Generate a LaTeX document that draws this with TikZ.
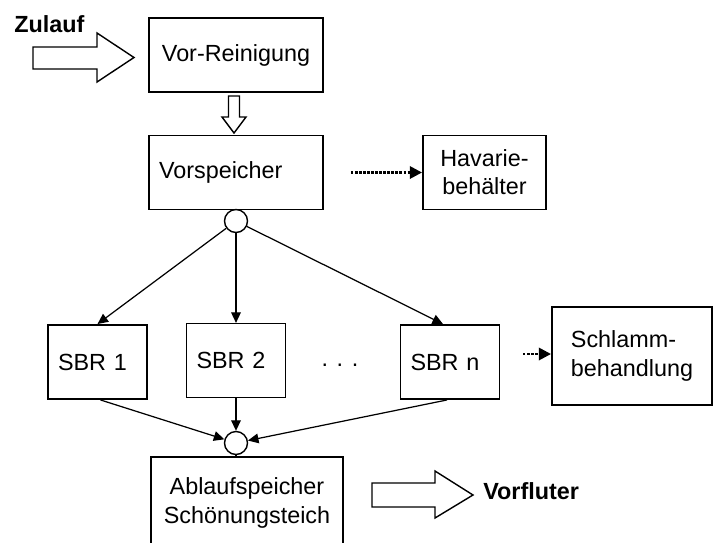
\documentclass[tikz,border=0pt]{standalone}
\usepackage{fontspec}
\setmainfont{Liberation Sans}
\usetikzlibrary{arrows.meta}

\tikzset{
  stage/.style={draw, line width=1.1pt, minimum height=1.48cm, inner xsep=0.2cm, inner ysep=0pt},
  junction/.style={draw, circle, line width=0.8pt, minimum size=0.46cm, inner sep=0pt},
  flow/.style={line width=0.7pt, -{Triangle[length=6pt, width=5.5pt]}},
  spill/.style={line width=1.5pt, dash pattern=on 1.4pt off 0.9pt, -{Triangle[length=7pt, width=7pt]}},
  hollow/.style={draw, line width=0.8pt, line join=miter, fill=white},
  tag/.style={font=\fontsize{13.3}{16}\selectfont\bfseries, inner sep=0pt, anchor=west}
}

\begin{document}
\begin{tikzpicture}[x=0.02cm, y=-0.02cm, font=\fontsize{13.3}{16}\selectfont]

\useasboundingbox (0,0) rectangle (714,542);
\clip (0,0) rectangle (714,542);

% Stages
\node[stage, text width=3.08cm, align=center] (vorrein) at (236,55) {Vor-Reinigung};
\node[stage, text width=3.08cm, align=left] (vorsp) at (236,172.5) {Vorspeicher};
\node[stage, text width=2.06cm, align=center] (havarie) at (484.5,172.5) {Havarie-\\behälter};

\node[stage, text width=1.58cm, align=left] (sbr1) at (97.5,362) {SBR 1};
\node[stage, line width=0.7pt, text width=1.58cm, align=left] (sbr2) at (236,360.5) {SBR 2};
\node[stage, text width=1.58cm, align=left] (sbrn) at (450,362) {SBR n};
\node[anchor=base] (dots) at (340,366) {. . .};

\node[stage, minimum width=3.2cm, minimum height=1.96cm, align=left] (schlamm) at (632,356) {Schlamm-\\behandlung};

\node[stage, anchor=north, minimum width=3.84cm, minimum height=1.84cm, align=center] (ablauf) at (247,456) {Ablaufspeicher\\Schönungsteich};

% Junctions
\node[junction] (split) at (236,221) {};
\node[junction] (merge) at (236,443) {};

% Labels
\node[tag] (zulauf) at (14,24) {Zulauf};
\node[tag] (vorfluter) at (483,491) {Vorfluter};

% Big hollow arrows
\draw[hollow] (33,47) -- (97,47) -- (97,33) -- (134,57.5) -- (97,82) -- (97,69) -- (33,69) -- cycle;
\draw[hollow] (228.5,96) -- (239.5,96) -- (239.5,117) -- (246,117) -- (234,133) -- (222,117) -- (228.5,117) -- cycle;
\draw[hollow] (372,483) -- (435,483) -- (435,471) -- (473,495) -- (435,518) -- (435,507) -- (372,507) -- cycle;

% Distribution
\draw[line width=0.7pt] (vorsp.south) -- (split);
\draw[flow] (split) -- (sbr1.north);
\draw[flow] (split) -- (sbr2.north);
\draw[flow] (split) -- ([xshift=-0.14cm]sbrn.north);

% Collection
\draw[flow] ([xshift=0.06cm]sbr1.south) -- (merge);
\draw[flow] (sbr2.south) -- (merge);
\draw[flow] ([xshift=-0.06cm]sbrn.south) -- (merge);
\draw[line width=0.7pt] (merge) -- (ablauf.north -| merge);

% Side streams
\coordinate (hv) at (351,172.5);
\draw[spill] (hv) -- (havarie.west);
\coordinate (sl) at (523,354);
\draw[spill] (sl) -- (sl -| schlamm.west);

\end{tikzpicture}
\end{document}
